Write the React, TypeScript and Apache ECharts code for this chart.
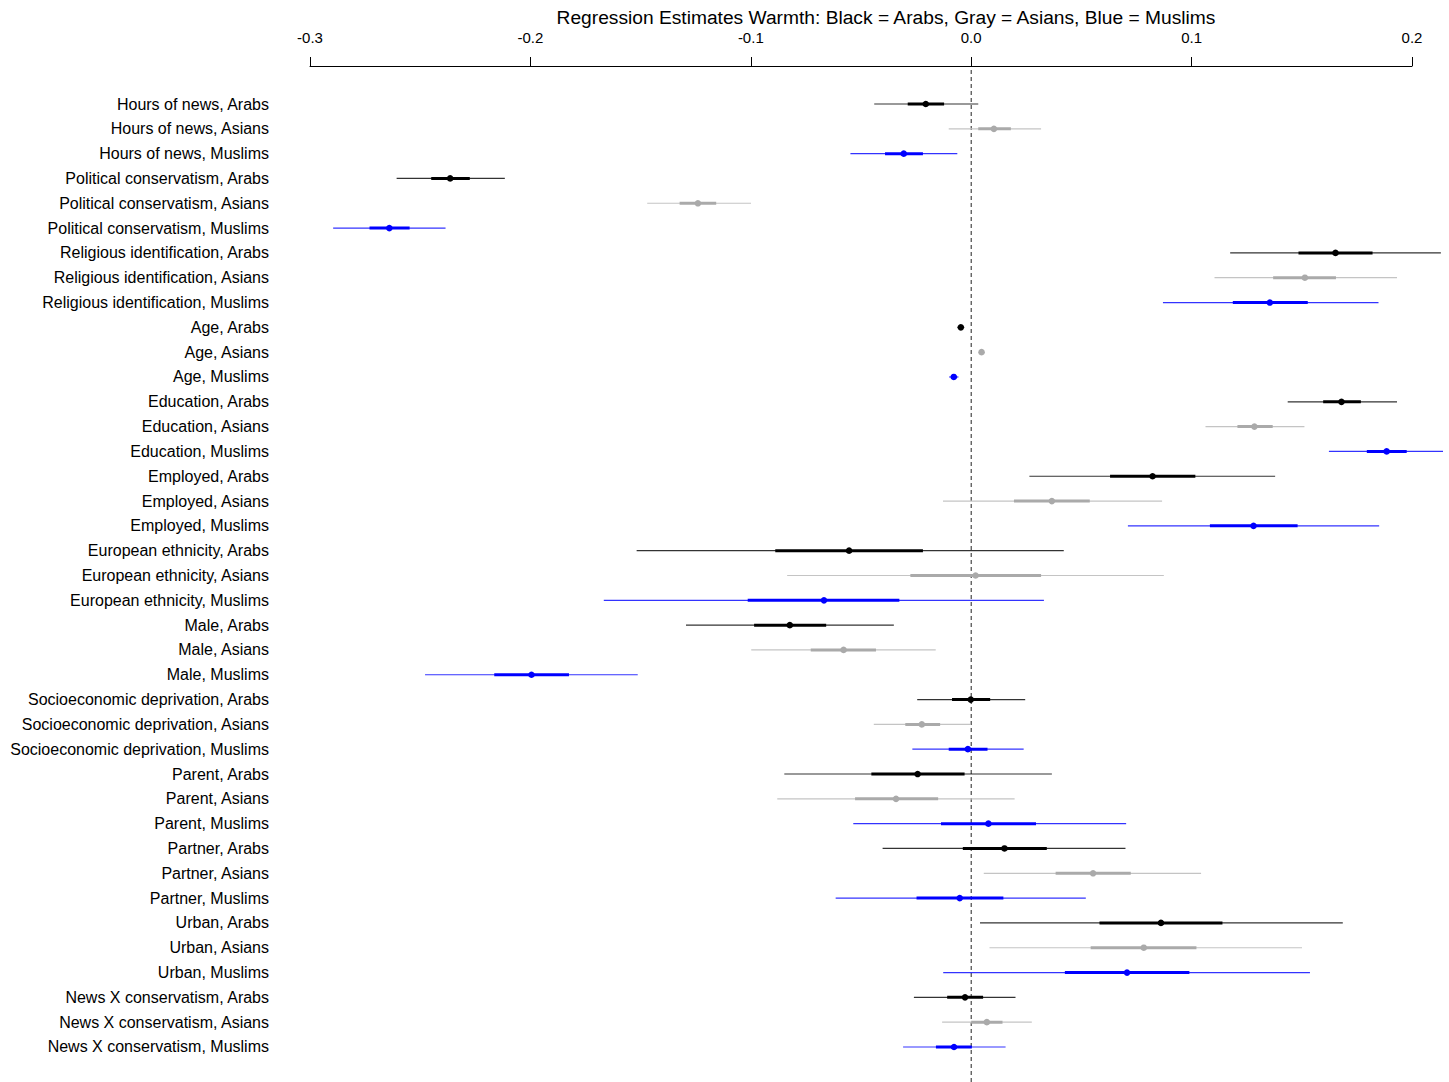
import React, { useEffect, useRef } from "react";
import * as echarts from "echarts";

const TITLE = "Regression Estimates Warmth: Black = Arabs, Gray = Asians, Blue = Muslims";

const rowLabels = [
  "Hours of news, Arabs", "Hours of news, Asians", "Hours of news, Muslims",
  "Political conservatism, Arabs", "Political conservatism, Asians", "Political conservatism, Muslims",
  "Religious identification, Arabs", "Religious identification, Asians", "Religious identification, Muslims",
  "Age, Arabs", "Age, Asians", "Age, Muslims",
  "Education, Arabs", "Education, Asians", "Education, Muslims",
  "Employed, Arabs", "Employed, Asians", "Employed, Muslims",
  "European ethnicity, Arabs", "European ethnicity, Asians", "European ethnicity, Muslims",
  "Male, Arabs", "Male, Asians", "Male, Muslims",
  "Socioeconomic deprivation, Arabs", "Socioeconomic deprivation, Asians", "Socioeconomic deprivation, Muslims",
  "Parent, Arabs", "Parent, Asians", "Parent, Muslims",
  "Partner, Arabs", "Partner, Asians", "Partner, Muslims",
  "Urban, Arabs", "Urban, Asians", "Urban, Muslims",
  "News X conservatism, Arabs", "News X conservatism, Asians", "News X conservatism, Muslims",
];

const estimate = [
  -0.0206, 0.0103, -0.0306, -0.2364, -0.1240, -0.2640, 0.1653, 0.1514, 0.1355,
  -0.0047, 0.0047, -0.0079, 0.1680, 0.1285, 0.1885, 0.0823, 0.0366, 0.1281,
  -0.0554, 0.0020, -0.0668, -0.0823, -0.0579, -0.1995, -0.0002, -0.0224, -0.0015,
  -0.0243, -0.0341, 0.0078, 0.0151, 0.0553, -0.0052, 0.0861, 0.0783, 0.0707,
  -0.0028, 0.0071, -0.0078,
];
const outerLow = [
  -0.0440, -0.0102, -0.0548, -0.2607, -0.1470, -0.2895, 0.1175, 0.1104, 0.0870,
  -0.0062, 0.0040, -0.0100, 0.1436, 0.1063, 0.1623, 0.0264, -0.0128, 0.0711,
  -0.1518, -0.0835, -0.1667, -0.1294, -0.0998, -0.2478, -0.0245, -0.0442, -0.0267,
  -0.0848, -0.0880, -0.0535, -0.0402, 0.0057, -0.0615, 0.0040, 0.0083, -0.0127,
  -0.0260, -0.0132, -0.0309,
];
const outerHigh = [
  0.0032, 0.0317, -0.0063, -0.2116, -0.0999, -0.2385, 0.2131, 0.1932, 0.1848,
  -0.0032, 0.0054, -0.0058, 0.1932, 0.1512, 0.2147, 0.1379, 0.0866, 0.1851,
  0.0420, 0.0874, 0.0330, -0.0351, -0.0161, -0.1513, 0.0245, -0.0005, 0.0238,
  0.0366, 0.0197, 0.0703, 0.0700, 0.1043, 0.0520, 0.1686, 0.1501, 0.1537,
  0.0201, 0.0275, 0.0156,
];
const innerLow = [
  -0.0288, 0.0032, -0.0391, -0.2450, -0.1323, -0.2730, 0.1485, 0.1370, 0.1187,
  -0.0052, 0.0044, -0.0086, 0.1597, 0.1208, 0.1795, 0.0630, 0.0194, 0.1083,
  -0.0889, -0.0276, -0.1014, -0.0985, -0.0728, -0.2164, -0.0087, -0.0299, -0.0102,
  -0.0453, -0.0527, -0.0137, -0.0038, 0.0383, -0.0248, 0.0582, 0.0542, 0.0425,
  -0.0109, 0.0000, -0.0160,
];
const innerHigh = [
  -0.0123, 0.0180, -0.0219, -0.2275, -0.1157, -0.2548, 0.1821, 0.1655, 0.1527,
  -0.0042, 0.0050, -0.0072, 0.1768, 0.1368, 0.1976, 0.1017, 0.0538, 0.1481,
  -0.0219, 0.0317, -0.0326, -0.0658, -0.0432, -0.1825, 0.0086, -0.0141, 0.0074,
  -0.0030, -0.0150, 0.0294, 0.0343, 0.0724, 0.0146, 0.1140, 0.1022, 0.0990,
  0.0054, 0.0142, 0.0003,
];

const groups = ["Arabs", "Asians", "Muslims"];
const groupStyle: Record<string, { point: string; thick: string; thin: string }> = {
  Arabs: { point: "#000000", thick: "#000000", thin: "rgba(0,0,0,0.8)" },
  Asians: { point: "#aaaaaa", thick: "#aaaaaa", thin: "#c4c4c4" },
  Muslims: { point: "#0000ff", thick: "#0000ff", thin: "rgba(0,0,255,0.8)" },
};

const FONT = "'Liberation Sans', Arial, Helvetica, sans-serif";

export default function App() {
  const ref = useRef<HTMLDivElement>(null);
  useEffect(() => {
    if (!ref.current) return;
    const chart = echarts.init(ref.current, null, { renderer: "svg" });
    const data = rowLabels.map((_, i) => [i, estimate[i], outerLow[i], outerHigh[i], innerLow[i], innerHigh[i]]);
    const groupOf = (label: string) => groups.find((g) => label.endsWith(g)) || "Arabs";

    const plotLeft = 310;
    const axisRight = 37; // 0.2 at x=1412
    const plotRight = 6;
    const W = 1449;
    const pxPerUnit = (W - plotLeft - axisRight) / 0.5;
    const dataMax = -0.3 + (W - plotLeft - plotRight) / pxPerUnit;

    chart.setOption({
      animation: false,
      backgroundColor: "#ffffff",
      textStyle: { fontFamily: FONT },
      graphic: [
        {
          type: "text",
          x: 886,
          y: 17,
          style: {
            text: TITLE,
            fontSize: 19.2,
            fontFamily: FONT,
            fill: "#000",
            textAlign: "center",
            textVerticalAlign: "middle",
          },
        },
      ],
      grid: [
        { left: plotLeft, right: plotRight, top: 91.6, bottom: 22.6 },
        { left: plotLeft, right: axisRight, top: 70, bottom: 0 },
      ],
      xAxis: [
        { gridIndex: 0, type: "value", min: -0.3, max: dataMax, show: false },
        {
          gridIndex: 1,
          type: "value",
          position: "top",
          offset: 4,
          min: -0.3,
          max: 0.2,
          interval: 0.1,
          axisLine: { show: true, onZero: false, lineStyle: { color: "#000", width: 1 } },
          axisTick: { show: true, length: 9, lineStyle: { color: "#000", width: 1 } },
          axisLabel: {
            color: "#000",
            fontSize: 15,
            fontFamily: FONT,
            margin: 21,
            formatter: (v: number) => v.toFixed(1),
          },
          splitLine: { show: false },
        },
      ],
      yAxis: [
        {
          gridIndex: 0,
          type: "category",
          inverse: true,
          data: rowLabels,
          axisLine: { show: false },
          axisTick: { show: false },
          splitLine: { show: false },
          axisLabel: { color: "#000", fontSize: 16, fontFamily: FONT, margin: 41, interval: 0 },
        },
        { gridIndex: 1, type: "value", min: 0, max: 1, show: false },
      ],
      series: [
        {
          type: "line",
          xAxisIndex: 1,
          yAxisIndex: 1,
          data: [[0, 0], [0, 1]],
          symbol: "none",
          silent: true,
          lineStyle: { color: "#222", width: 1, type: [4, 3] },
          z: 1,
        },
        {
          type: "custom",
          xAxisIndex: 0,
          yAxisIndex: 0,
          clip: true,
          z: 2,
          data,
          encode: { x: [1, 2, 3, 4, 5], y: 0 },
          renderItem: (params: any, api: any) => {
            const row = api.value(0);
            const st = groupStyle[groupOf(rowLabels[row])];
            const pe = api.coord([api.value(1), row]);
            const oL = api.coord([api.value(2), row]);
            const oH = api.coord([api.value(3), row]);
            const iL = api.coord([api.value(4), row]);
            const iH = api.coord([api.value(5), row]);
            return {
              type: "group",
              children: [
                {
                  type: "line",
                  shape: { x1: oL[0], y1: pe[1], x2: oH[0], y2: pe[1] },
                  style: { stroke: st.thin, lineWidth: 1.2 },
                },
                {
                  type: "line",
                  shape: { x1: iL[0], y1: pe[1], x2: iH[0], y2: pe[1] },
                  style: { stroke: st.thick, lineWidth: 3 },
                },
                {
                  type: "circle",
                  shape: { cx: pe[0], cy: pe[1], r: 3.3 },
                  style: { fill: st.point },
                },
              ],
            };
          },
        },
      ],
    });
    return () => chart.dispose();
  }, []);
  return (
    <div
      ref={ref}
      style={{ position: "absolute", left: 0, top: 0, width: 1449, height: 1082 }}
    />
  );
}
